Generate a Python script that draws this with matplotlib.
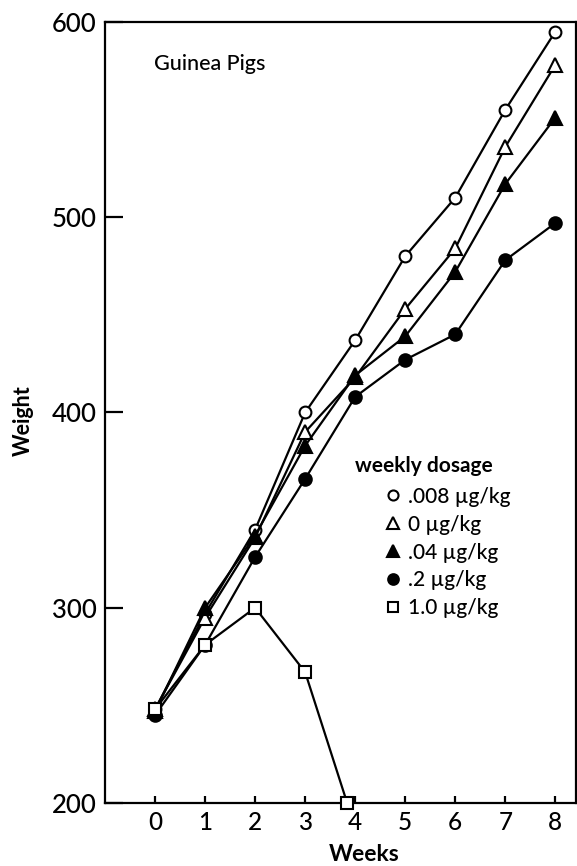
import matplotlib
matplotlib.use('Agg')
import matplotlib.pyplot as plt

plt.rcParams['font.family'] = ['Lato', 'DejaVu Sans']
plt.rcParams['font.weight'] = 'medium'

# data
weeks = [0, 1, 2, 3, 4, 5, 6, 7, 8]
w_008 = [248, 297, 340, 400, 437, 480, 510, 555, 595]
w_0 = [248, 295, 336, 390, 418, 453, 484, 536, 578]
w_04 = [247, 300, 337, 383, 419, 439, 472, 517, 551]
w_2 = [245, 281, 326, 366, 408, 427, 440, 478, 497]
weeks_10 = [0, 1, 2, 3, 3.84]
w_10 = [248, 281, 300, 267, 200]

labels = ['.008 µg/kg', '0 µg/kg', '.04 µg/kg', '.2 µg/kg', '1.0 µg/kg']
x_ticks = [0, 1, 2, 3, 4, 5, 6, 7, 8]
y_ticks = [200, 300, 400, 500, 600]

fig = plt.figure(figsize=(5.77, 8.66), dpi=100)
ax = fig.add_axes([0.182, 0.0727, 0.816, 0.902])

lw = 1.6
ms = 8.5
mew = 1.5
ax.plot(weeks, w_008, 'k-', marker='o', mfc='white', mec='k', ms=ms, mew=mew, lw=lw, label=labels[0], zorder=3)
ax.plot(weeks, w_0, 'k-', marker='^', mfc='white', mec='k', ms=ms + 1, mew=mew, lw=lw, label=labels[1], zorder=3)
ax.plot(weeks, w_04, 'k-', marker='^', mfc='k', mec='k', ms=ms + 1, mew=mew, lw=lw, label=labels[2], zorder=3)
ax.plot(weeks, w_2, 'k-', marker='o', mfc='k', mec='k', ms=ms + 0.5, mew=mew, lw=lw, label=labels[3], zorder=3)
ax.plot(weeks_10, w_10, 'k-', marker='s', mfc='white', mec='k', ms=ms, mew=mew, lw=lw, label=labels[4], zorder=3,
        clip_on=False)

ax.set_xlim(-1, 8.41)
ax.set_ylim(200, 600)
ax.set_xticks(x_ticks)
ax.set_yticks(y_ticks)

for s in ax.spines.values():
    s.set_linewidth(1.6)

ax.tick_params(axis='x', direction='in', length=5, width=1.6, labelsize=17.5, pad=6)
ax.tick_params(axis='y', direction='in', length=13, width=1.6, labelsize=18.5, pad=6)

ax.set_xlabel('Weeks', fontsize=16.5, fontweight='bold')
ax.xaxis.set_label_coords(0.55, -0.052)
ax.set_ylabel('Weight', fontsize=15.5, fontweight='bold')
ax.yaxis.set_label_coords(-0.152, 0.49)

ax.text(0.105, 0.946, 'Guinea Pigs', transform=ax.transAxes, fontsize=15.5, va='center', ha='left')
ax.text(0.53, 0.431, 'weekly dosage', transform=ax.transAxes, fontsize=15, fontweight='bold', va='center', ha='left')

leg = ax.legend(loc='upper left', bbox_to_anchor=(0.593, 0.405), frameon=False, fontsize=15,
                handlelength=0.8, handletextpad=0.35, labelspacing=0.38, borderpad=0, borderaxespad=0,
                markerscale=0.85)
for line in leg.get_lines():
    line.set_linestyle('none')

fig.savefig('out.png', dpi=100)
